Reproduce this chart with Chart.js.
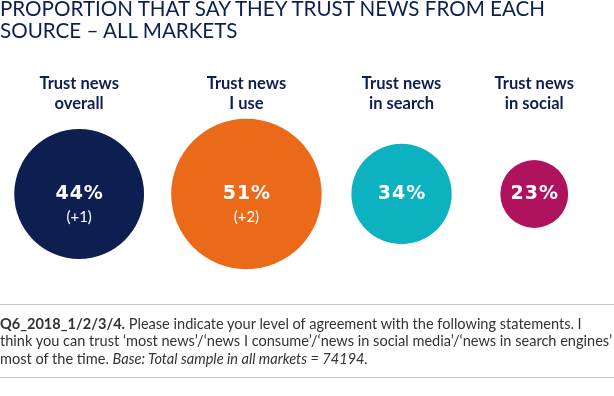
<!DOCTYPE html>
<html>
<head>
<meta charset="utf-8">
<script src="https://cdn.jsdelivr.net/npm/chart.js@4/dist/chart.umd.min.js"></script>
<style>
  body { margin: 0; background: #fff; font-family: Lato, sans-serif; }
  #page { position: relative; width: 614px; height: 396px; overflow: hidden; }
  #title { position: absolute; left: 0; top: -3px; margin: 0; font-size: 20.6px; line-height: 22px; font-weight: 400; color: #0c1f50; }
  #chart-box { position: absolute; left: 0; top: 0; width: 614px; height: 396px; }
  #note { position: absolute; left: 0; top: 304px; width: 614px; height: 62px; padding-top: 10px;
          border-top: 1px solid #c8c8c8; border-bottom: 1px solid #c8c8c8;
          font-size: 14.55px; line-height: 17.4px; color: #333; white-space: nowrap; }
</style>
</head>
<body>
<div id="page">
  <div id="chart-box"><canvas id="bubbles"></canvas></div>
  <h1 id="title">PROPORTION THAT SAY THEY TRUST NEWS FROM EACH<br>SOURCE – ALL MARKETS</h1>
  <div id="note">
    <b>Q6_2018_1/2/3/4.</b> Please indicate your level of agreement with the following statements. I<br>
    think you can trust ‘most news’/‘news I consume’/‘news in social media’/‘news in search engines’<br>
    most of the time. <i>Base: Total sample in all markets = 74194.</i>
  </div>
</div>
<script>
const categories = [['Trust news', 'overall'], ['Trust news', 'I use'], ['Trust news', 'in search'], ['Trust news', 'in social']];
const trustValues = [44, 51, 34, 23];
const changeLabels = ['(+1)', '(+2)', '', ''];
const bubbleX = [12.4, 40, 65.6, 87.5];
const colours = ['#0c1f50', '#ea6a1a', '#0cb2c0', '#b0135e'];

const pxPerPoint = 1.475;

const valueLabels = {
  id: 'valueLabels',
  afterDatasetsDraw(chart) {
    const c = chart.ctx;
    const meta = chart.getDatasetMeta(0);
    c.save();
    c.fillStyle = '#fff';
    c.textAlign = 'center';
    c.textBaseline = 'middle';
    meta.data.forEach((pt, i) => {
      c.font = '700 19px "DejaVu Sans"';
      c.letterSpacing = '1px';
      c.fillText(trustValues[i] + '%', pt.x + 0.5, pt.y);
      if (changeLabels[i]) {
        c.font = '400 15px Lato';
        c.letterSpacing = '0px';
        c.fillText(changeLabels[i], pt.x, pt.y + 23);
      }
    });
    c.restore();
  }
};

const ctx = document.getElementById('bubbles').getContext('2d');

new Chart(ctx, {
  type: 'bubble',
  data: {
    datasets: [{
      data: trustValues.map((v, i) => ({ x: bubbleX[i], y: 61, r: v * pxPerPoint })),
      backgroundColor: colours,
      borderWidth: 0,
      hoverRadius: 0,
      clip: false
    }]
  },
  options: {
    responsive: true,
    maintainAspectRatio: false,
    animation: false,
    layout: { autoPadding: false, padding: { top: 69, bottom: 96, left: 0, right: 0 } },
    plugins: { legend: { display: false }, tooltip: { enabled: false } },
    scales: {
      x: {
        type: 'linear',
        position: 'top',
        min: 0,
        max: 100,
        grid: { display: false },
        border: { display: false },
        // edge ticks with no text keep the axis from padding the chart area
        afterBuildTicks: scale => { scale.ticks = [0, ...bubbleX, 100].map(v => ({ value: v })); },
        ticks: {
          autoSkip: false,
          maxRotation: 0,
          padding: 4,
          color: '#0c1f50',
          font: { family: 'Lato', size: 16.5, weight: '700', lineHeight: 1.25 },
          callback: (v, i) => categories[i - 1] || ''
        }
      },
      y: { display: false, min: 0, max: 100 }
    }
  },
  plugins: [valueLabels]
});
</script>
</body>
</html>
